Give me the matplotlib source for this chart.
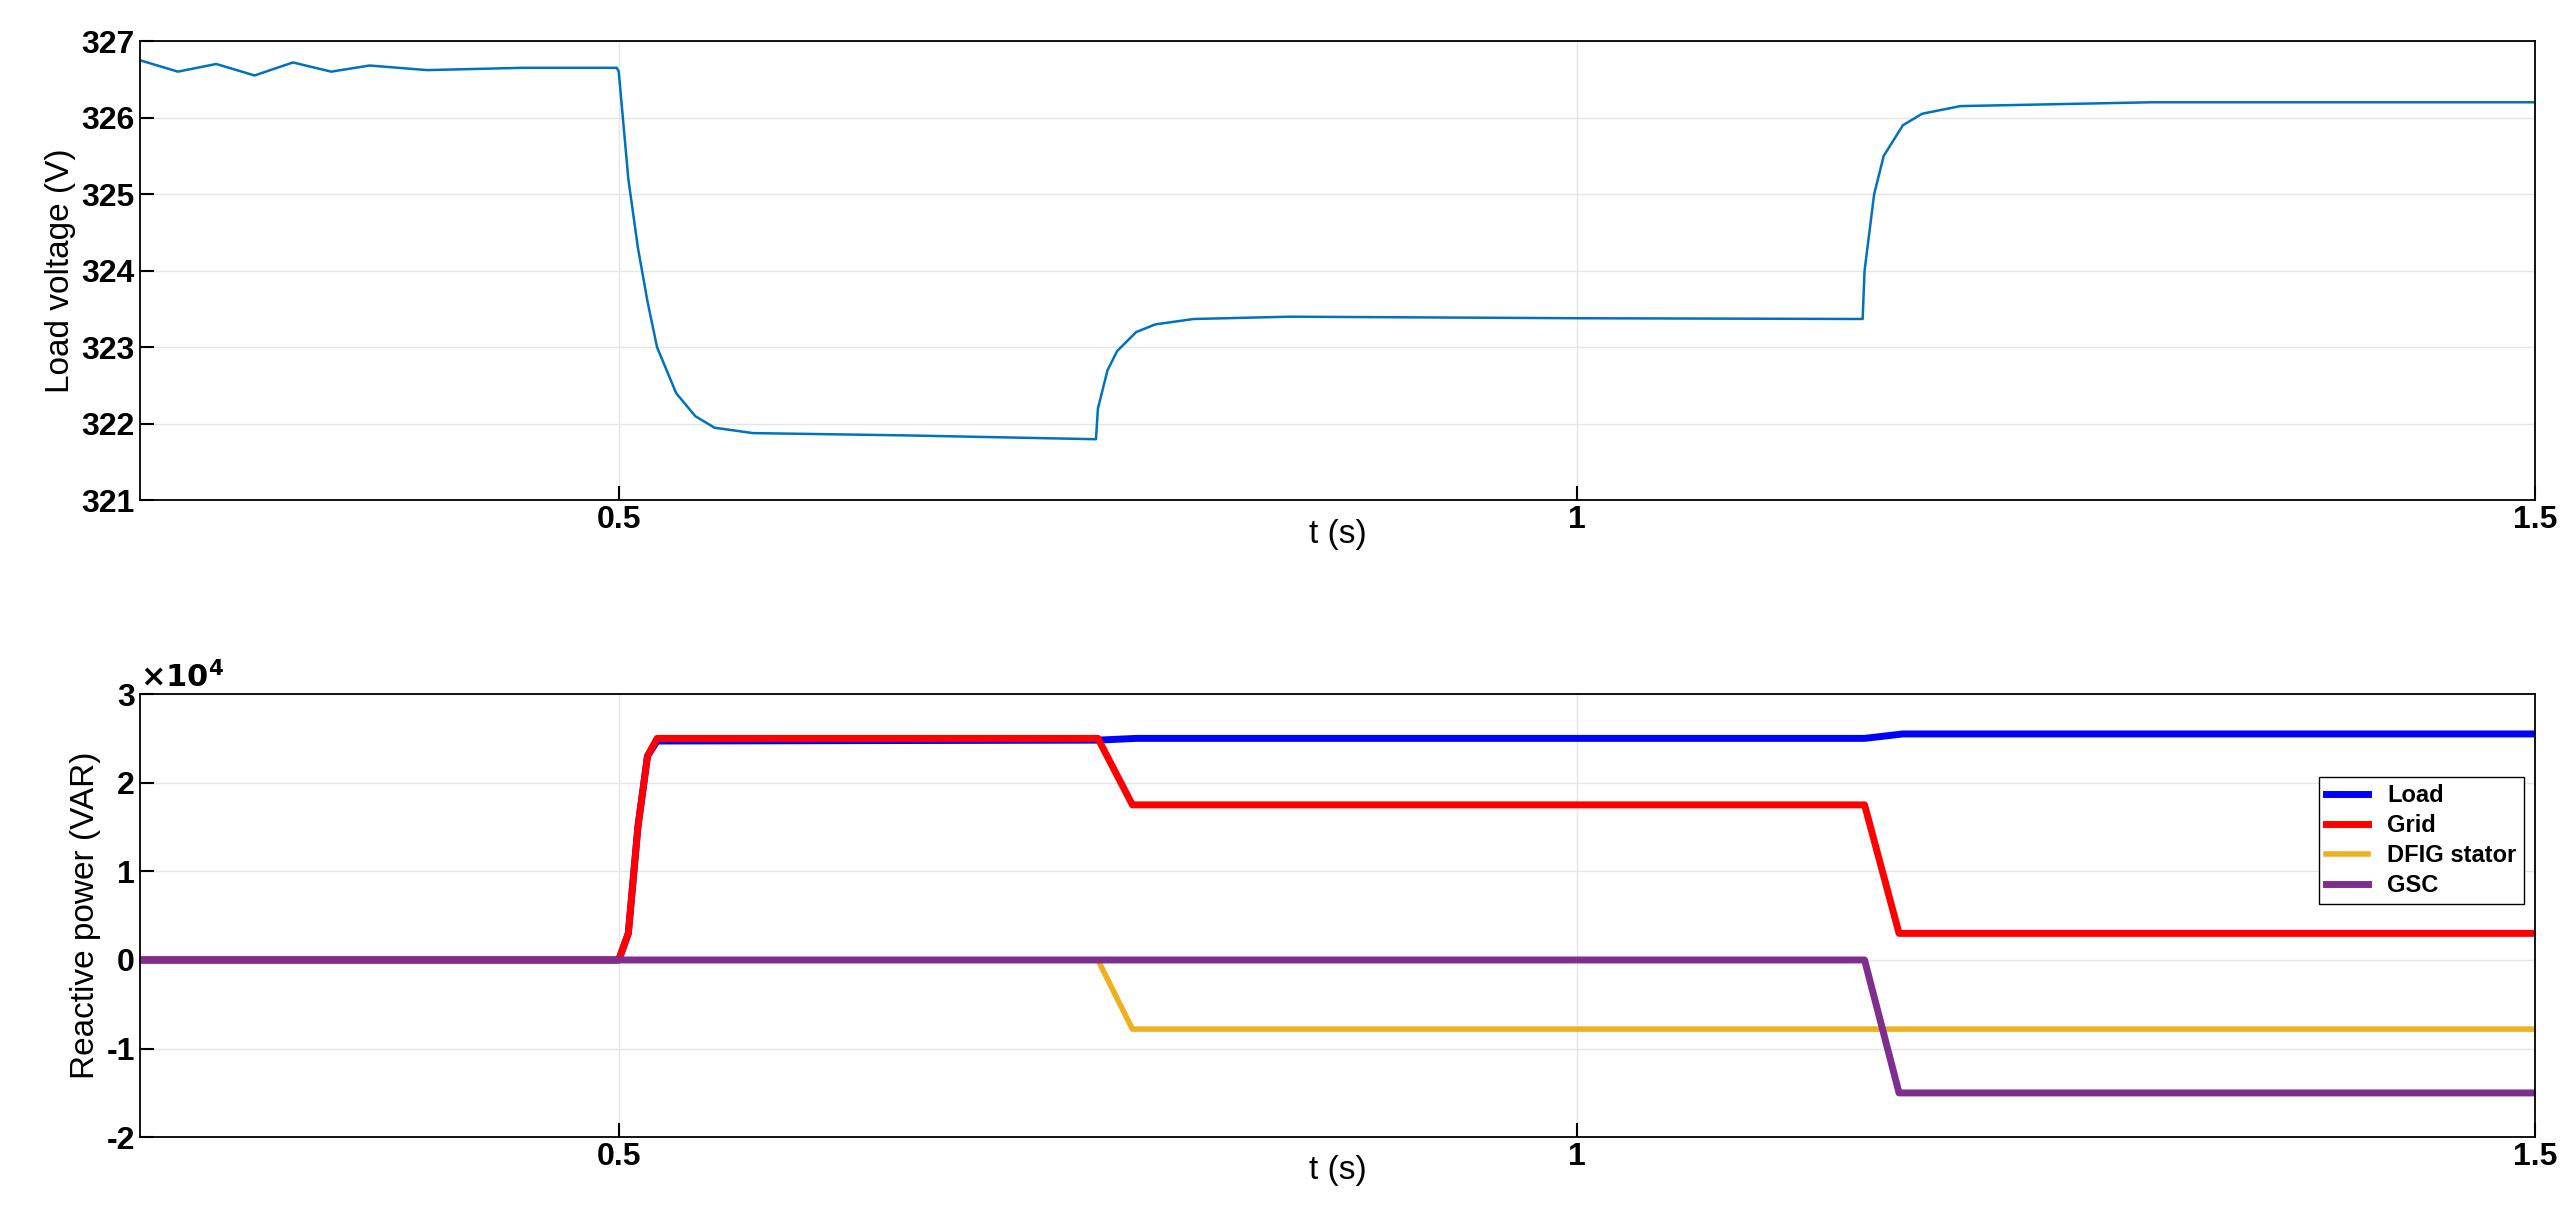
import numpy as np
import matplotlib.pyplot as plt

plt.rcParams['font.family'] = ['Liberation Sans', 'DejaVu Sans']
plt.rcParams['font.weight'] = 'bold'

# load voltage breakpoints
t_v = [0.25, 0.27, 0.29, 0.31, 0.33, 0.35, 0.37, 0.40, 0.45, 0.499, 0.5, 0.505, 0.51, 0.515, 0.52,
       0.53, 0.54, 0.55, 0.57, 0.65, 0.749, 0.75, 0.755, 0.76, 0.77, 0.78, 0.80, 0.85, 1.0,
       1.149, 1.15, 1.155, 1.16, 1.17, 1.18, 1.20, 1.3, 1.5]
v = [326.75, 326.6, 326.7, 326.55, 326.72, 326.6, 326.68, 326.62, 326.65, 326.65, 326.6, 325.2, 324.3, 323.6, 323.0,
     322.4, 322.1, 321.95, 321.88, 321.85, 321.8, 322.2, 322.7, 322.95, 323.2, 323.3, 323.37, 323.4, 323.38,
     323.37, 324.0, 325.0, 325.5, 325.9, 326.05, 326.15, 326.2, 326.2]

# reactive power breakpoints
t_load = [0.25, 0.5, 0.505, 0.51, 0.515, 0.52, 0.75, 0.77, 1.15, 1.17, 1.5]
q_load = [0, 0, 0.3e4, 1.5e4, 2.3e4, 2.47e4, 2.48e4, 2.5e4, 2.5e4, 2.55e4, 2.55e4]
t_grid = [0.25, 0.5, 0.505, 0.51, 0.515, 0.52, 0.75, 0.768, 1.15, 1.168, 1.5]
q_grid = [0, 0, 0.3e4, 1.5e4, 2.3e4, 2.5e4, 2.5e4, 1.75e4, 1.75e4, 0.3e4, 0.3e4]
t_dfig = [0.25, 0.75, 0.768, 1.5]
q_dfig = [0, 0, -0.78e4, -0.78e4]
t_gsc = [0.25, 1.15, 1.168, 1.5]
q_gsc = [0, 0, -1.5e4, -1.5e4]

fig = plt.figure(figsize=(25.61, 12.06), dpi=100)
ax1 = fig.add_axes([0.0545, 0.585, 0.9355, 0.381])
ax2 = fig.add_axes([0.0545, 0.057, 0.9355, 0.3675])

ax1.plot(t_v, v, color='#0072BD', lw=1.8)
ax1.set_ylim(321, 327)
ax1.set_ylabel('Load voltage (V)', fontsize=24, fontweight='normal')

ax2.plot(t_load, q_load, color='#0000FF', lw=5, label='Load')
ax2.plot(t_grid, q_grid, color='#FF0000', lw=5, label='Grid')
ax2.plot(t_dfig, q_dfig, color='#EDB120', lw=4, label='DFIG stator')
ax2.plot(t_gsc, q_gsc, color='#7E2F8E', lw=5, label='GSC')
ax2.set_ylim(-2e4, 3e4)
ax2.set_yticks([-2e4, -1e4, 0, 1e4, 2e4, 3e4])
ax2.set_yticklabels(['-2', '-1', '0', '1', '2', '3'])
ax2.text(0.0, 1.015, r'$\times10^4$', transform=ax2.transAxes, fontsize=22)
ax2.set_ylabel('Reactive power (VAR)', fontsize=24, fontweight='normal')
ax2.legend(loc='upper right', bbox_to_anchor=(1.0, 0.84), fontsize=17, fancybox=False,
           edgecolor='black', framealpha=1, handlelength=1.8, borderpad=0.3, labelspacing=0.3)

for ax in (ax1, ax2):
    ax.set_xlim(0.25, 1.5)
    ax.set_xticks([0.5, 1, 1.5])
    ax.set_xticklabels(['0.5', '1', '1.5'])
    ax.grid(True, color='#E5E5E5', lw=1)
    ax.tick_params(labelsize=23, direction='in', length=10, width=1.5)
    ax.set_xlabel('t (s)', fontsize=24, labelpad=-12)
    for s in ax.spines.values():
        s.set_linewidth(1.3)

fig.savefig('out.png', dpi=100)
